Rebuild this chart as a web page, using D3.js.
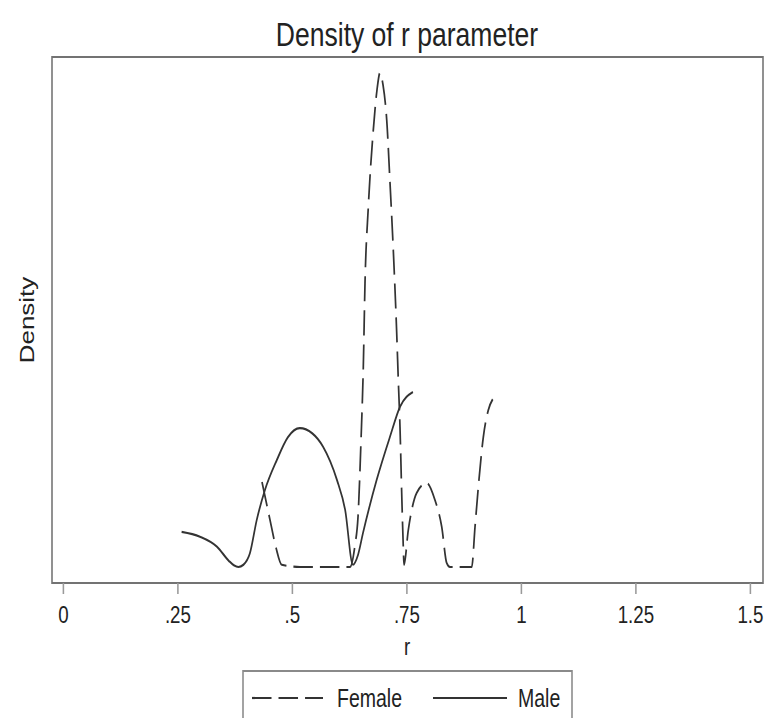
<!DOCTYPE html>
<html>
<head>
<meta charset="utf-8">
<script src="https://cdn.jsdelivr.net/npm/d3@7"></script>
<style>
  body { margin: 0; background: #fff; }
  #chart { width: 770px; height: 718px; }
</style>
</head>
<body>
<div id="chart"></div>
<script>
// r values and estimated density
let femaleR = [0.4345, 0.452, 0.4651, 0.4775, 0.5175, 0.583, 0.6266, 0.6376, 0.6441, 0.6507, 0.6557, 0.6594,
    0.6666, 0.6775, 0.6856, 0.6921, 0.6987, 0.7068, 0.714, 0.7212, 0.7286, 0.7321, 0.7358, 0.7395, 0.743,
    0.7445, 0.7539, 0.7723, 0.7941, 0.8122, 0.8269, 0.8378, 0.845, 0.8924, 0.8996, 0.9068, 0.9177, 0.9286, 0.9382];
let femaleDensity = [1.50, 0.83, 0.34, 0.04, 0, 0, 0, 0.39, 0.88, 2.24, 3.53, 5.01,
    6.35, 7.71, 8.42, 8.72, 8.51, 7.89, 6.78, 5.59, 4.13, 3.30, 2.47, 1.31, 0.35,
    0.04, 0.65, 1.31, 1.48, 1.18, 0.71, 0.07, 0, 0, 0.71, 1.41, 2.29, 2.77, 2.96];

let maleR = [0.259, 0.299, 0.336, 0.362, 0.373, 0.383, 0.394, 0.408, 0.423, 0.441, 0.467, 0.491, 0.517,
    0.544, 0.568, 0.598, 0.616, 0.633, 0.644, 0.655, 0.685, 0.714, 0.736, 0.764];
let maleDensity = [0.62, 0.535, 0.36, 0.11, 0.03, 0, 0.04, 0.24, 0.83, 1.36, 1.89, 2.29, 2.45,
    2.36, 2.12, 1.54, 1.01, 0.04, 0.21, 0.60, 1.54, 2.30, 2.83, 3.09];

let xTicks = [0, 0.25, 0.5, 0.75, 1, 1.25, 1.5];
let xTickLabels = ["0", ".25", ".5", ".75", "1", "1.25", "1.5"];

let seriesNames = ["Female", "Male"];

// the picture is squeezed sideways, so draw in a wider space and scale x back down
let K = 0.78;
let divWidth = 770, divHeight = 718;
let frame = { left: 52, right: 763, top: 57, bottom: 583 };

let svg = d3.select("#chart").append("svg")
    .attr("width", divWidth)
    .attr("height", divHeight);

svg.append("rect")
    .attr("width", divWidth).attr("height", divHeight)
    .attr("fill", "#fff");

let g = svg.append("g")
    .attr("transform", `scale(${K},1)`)
    .attr("font-family", "'Liberation Sans', Arial, Helvetica, sans-serif")
    .attr("fill", "#222");

let x = d3.scaleLinear().domain([0, 1.5]).range([63 / K, 750 / K]);
let y = d3.scaleLinear().domain([0, 9]).range([567, frame.top]);

// plot frame
g.append("rect")
    .attr("x", frame.left / K)
    .attr("y", frame.top)
    .attr("width", (frame.right - frame.left) / K)
    .attr("height", frame.bottom - frame.top)
    .attr("fill", "none")
    .attr("stroke", "#737373")
    .attr("stroke-width", 2);

// x axis ticks + labels
let xAxis = d3.axisBottom(x)
    .tickValues(xTicks)
    .tickFormat((d, i) => xTickLabels[i])
    .tickSize(11)
    .tickPadding(12);

let axisG = g.append("g")
    .attr("transform", `translate(0,${frame.bottom})`)
    .call(xAxis);
axisG.select(".domain").remove();
axisG.selectAll(".tick line").attr("stroke", "#9a9a9a").attr("stroke-width", 2);
axisG.selectAll(".tick text")
    .attr("fill", "#222")
    .attr("font-family", "'Liberation Sans', Arial, Helvetica, sans-serif")
    .attr("font-size", 24);

// titles
g.append("text")
    .attr("text-anchor", "middle")
    .attr("x", 407 / K)
    .attr("y", 46)
    .attr("font-size", 34)
    .text("Density of r parameter");

g.append("text")
    .attr("text-anchor", "middle")
    .attr("x", 407 / K)
    .attr("y", 655)
    .attr("font-size", 24)
    .text("r");

g.append("text")
    .attr("text-anchor", "middle")
    .attr("transform", `translate(${34 / K},${320}) rotate(-90)`)
    .attr("font-size", 26)
    .text("Density");

// density curves
let line = d3.line()
    .x(d => x(d[0]))
    .y(d => y(d[1]))
    .curve(d3.curveMonotoneX);

let femaleData = femaleR.map((r, i) => [r, femaleDensity[i]]);
let maleData = maleR.map((r, i) => [r, maleDensity[i]]);

g.append("path")
    .attr("d", line(maleData))
    .attr("fill", "none")
    .attr("stroke", "#333")
    .attr("stroke-width", 2.2);

g.append("path")
    .attr("d", line(femaleData))
    .attr("fill", "none")
    .attr("stroke", "#333")
    .attr("stroke-width", 2.2)
    .style("stroke-dasharray", "25,9");

// legend
let legend = g.append("g");
legend.append("rect")
    .attr("x", 243 / K)
    .attr("y", 671)
    .attr("width", (572 - 243) / K)
    .attr("height", 60)
    .attr("fill", "#fff")
    .attr("stroke", "#8a8a8a")
    .attr("stroke-width", 2);

let legendLines = [[252, 323], [433, 507]];
let legendText = [337, 518];

seriesNames.forEach((name, i) => {
    legend.append("line")
        .attr("x1", legendLines[i][0] / K)
        .attr("x2", legendLines[i][1] / K)
        .attr("y1", 698).attr("y2", 698)
        .attr("stroke", "#333")
        .attr("stroke-width", 2.2)
        .style("stroke-dasharray", i == 0 ? "25,9" : null);
    legend.append("text")
        .attr("x", legendText[i] / K)
        .attr("y", 707)
        .attr("font-size", 25)
        .text(name);
});
</script>
</body>
</html>
